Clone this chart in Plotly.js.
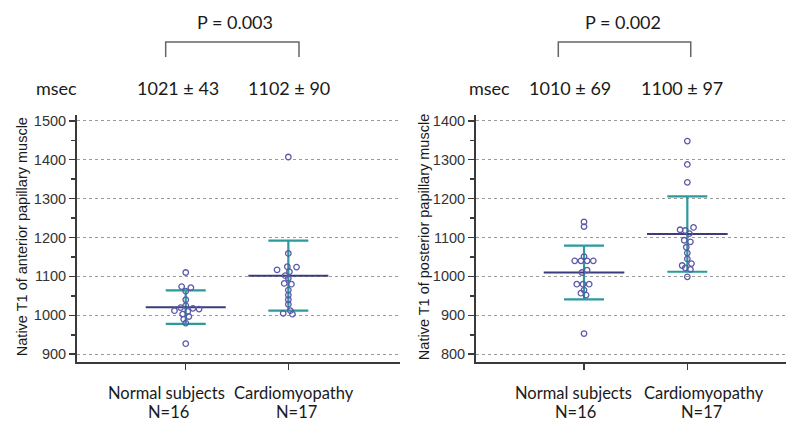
<!DOCTYPE html>
<html>
<head>
<meta charset="utf-8">
<script src="https://cdn.plot.ly/plotly-3.0.1.min.js"></script>
<style>html,body{margin:0;padding:0;background:#fff;}#chart{width:786px;height:422px;}</style>
</head>
<body>
<div id="chart"></div>
<script>
// ---------- DATA ----------
const groups = ['Normal subjects', 'Cardiomyopathy'];
const groupN = [16, 17];
const groupPos = [1, 2];

// Anterior papillary muscle (left panel)
const antNormal = [1110, 1074, 1071, 1062, 1040, 1025, 1020, 1018, 1016, 1012, 1010, 1003, 997, 990, 980, 927];
const antNormalJitter = [0, -0.04, 0.05, 0, 0, 0, -0.05, 0.07, 0.13, -0.11, 0.02, -0.03, 0.03, -0.02, 0, 0];
const antCardio = [1407, 1159, 1125, 1124, 1117, 1112, 1102, 1095, 1082, 1080, 1065, 1052, 1040, 1028, 1012, 1005, 1003];
const antCardioJitter = [0, 0, -0.01, 0.08, -0.11, 0.01, -0.03, 0, -0.04, 0.03, 0, 0, 0, 0, 0.02, -0.05, 0.04];
const antMeans = [1021, 1102];
const antSDs = [43, 90];
const antP = '0.003';

// Posterior papillary muscle (right panel)
const postNormal = [1140, 1128, 1051, 1040, 1040, 1040, 1040, 1016, 1010, 980, 980, 980, 965, 957, 952, 853];
const postNormalJitter = [0, 0, 0, -0.09, -0.03, 0.03, 0.09, 0.03, -0.02, -0.07, -0.01, 0.05, 0, -0.03, 0.02, 0];
const postCardio = [1348, 1288, 1242, 1126, 1120, 1118, 1110, 1093, 1089, 1075, 1060, 1045, 1033, 1028, 1022, 1018, 999];
const postCardioJitter = [0, 0, 0, 0.06, -0.07, -0.02, 0.02, -0.03, 0.03, -0.01, 0, 0, 0.04, -0.05, -0.02, 0.03, 0];
const postMeans = [1010, 1100];        // stated in labels
const postSDs = [69, 97];
const postDrawnMeans = [1010, 1109];   // centre of plotted mean/SD bars
const postP = '0.002';

const antTitle = 'Native T1 of anterior papillary muscle';
const postTitle = 'Native T1 of posterior papillary muscle';
const unitLabel = 'msec';

// ---------- STYLE ----------
const pointColor = '#5a5aa8';
const meanColor = '#3c3c78';
const sdColor = '#2a9a9c';
const textFont = {family: 'Lato, "Open Sans", sans-serif', size: 18, color: '#1a1a1a'};
const groupFont = {family: 'Lato, "Open Sans", sans-serif', size: 16.5, color: '#1a1a1a'};
const tickFont = {family: '"Liberation Sans", Arial, sans-serif', size: 14.5, color: '#333'};
const yTitleFont = {family: '"Liberation Sans", Arial, sans-serif', size: 14.5, color: '#1a1a1a'};

function panelTraces(xa, ya, vals1, jit1, vals2, jit2, means, sds) {
  const tr = [];
  // SD bars
  tr.push({x: groupPos, y: means, xaxis: xa, yaxis: ya, type: 'scatter', mode: 'markers',
    marker: {size: 1, color: 'rgba(0,0,0,0)'}, hoverinfo: 'skip',
    error_y: {type: 'data', array: sds, visible: true, color: sdColor, thickness: 2.2, width: 20}});
  // mean lines
  means.forEach((m, i) => {
    tr.push({x: [groupPos[i] - 0.39, groupPos[i] + 0.39], y: [m, m], xaxis: xa, yaxis: ya,
      type: 'scatter', mode: 'lines', line: {color: meanColor, width: 2}, hoverinfo: 'skip'});
  });
  // points
  [[vals1, jit1, 0], [vals2, jit2, 1]].forEach(([v, j, gi]) => {
    tr.push({x: v.map((_, k) => groupPos[gi] + j[k]), y: v, xaxis: xa, yaxis: ya,
      type: 'scatter', mode: 'markers',
      marker: {symbol: 'circle-open', size: 5.5, color: pointColor, line: {width: 1.3, color: pointColor}}});
  });
  return tr;
}

const traces = [].concat(
  panelTraces('x', 'y', antNormal, antNormalJitter, antCardio, antCardioJitter, antMeans, antSDs),
  panelTraces('x2', 'y2', postNormal, postNormalJitter, postCardio, postCardioJitter, postDrawnMeans, postSDs)
);

function yAxis(range, tick0, anchor) {
  return {range: range, tick0: tick0, dtick: 100, anchor: anchor, showline: true, linecolor: '#3a3a3a', linewidth: 2,
    ticks: 'outside', ticklen: 6, tickwidth: 1.5, tickcolor: '#3a3a3a', tickfont: tickFont,
    showgrid: true, gridcolor: '#9a9a9a', gridwidth: 1, griddash: 'dot', zeroline: false,
    minor: {dtick: 50, ticks: 'outside', ticklen: 4, tickcolor: '#3a3a3a', showgrid: false},
    domain: [0.1422, 0.7275], fixedrange: true};
}
function xAxis(range, domain, anchor) {
  return {range: range, domain: domain, anchor: anchor, showline: true, linecolor: '#3a3a3a', linewidth: 2,
    tickvals: groupPos, ticktext: ['', ''], ticks: 'outside', ticklen: 6, tickwidth: 1.5, tickcolor: '#3a3a3a',
    showgrid: false, zeroline: false, fixedrange: true};
}

const annotations = [];
function addText(text, x, y, font, extra) {
  annotations.push(Object.assign({text: text, x: x, y: y, xref: 'paper', yref: 'paper',
    showarrow: false, xanchor: 'center', yanchor: 'middle', font: font}, extra || {}));
}
// left panel texts
addText('P = ' + antP, 0.299, 0.948, textFont);
addText(unitLabel, 0.0725, 0.7915, textFont);
addText(antMeans[0] + ' ± ' + antSDs[0], 0.2265, 0.7915, textFont);
addText(antMeans[1] + ' ± ' + antSDs[1], 0.3677, 0.7915, textFont);
addText(groups[0], 0.2115, 0.0687, groupFont);
addText('N=' + groupN[0], 0.214, 0.0237, groupFont);
addText(groups[1], 0.374, 0.0687, groupFont);
addText('N=' + groupN[1], 0.377, 0.0237, groupFont);
addText(antTitle, 0.028, 0.438, yTitleFont, {textangle: -90});
// right panel texts
addText('P = ' + postP, 0.7926, 0.948, textFont);
addText(unitLabel, 0.623, 0.7915, textFont);
addText(postMeans[0] + ' ± ' + postSDs[0], 0.7252, 0.7915, textFont);
addText(postMeans[1] + ' ± ' + postSDs[1], 0.8673, 0.7915, textFont);
addText(groups[0], 0.7295, 0.0687, groupFont);
addText('N=' + groupN[0], 0.732, 0.0237, groupFont);
addText(groups[1], 0.8957, 0.0687, groupFont);
addText('N=' + groupN[1], 0.8919, 0.0237, groupFont);
addText(postTitle, 0.5394, 0.438, yTitleFont, {textangle: -90});

const bracket = (x0, x1) => ({type: 'path', xref: 'paper', yref: 'paper',
  path: `M ${x0},0.865 L ${x0},0.9005 L ${x1},0.9005 L ${x1},0.865`,
  line: {color: '#666', width: 1.5}});

const layout = {
  width: 786, height: 422,
  margin: {l: 0, r: 0, t: 0, b: 0},
  paper_bgcolor: '#fff', plot_bgcolor: '#fff',
  showlegend: false,
  xaxis: xAxis([-0.0595, 3.089], [0.098, 0.509], 'y'),
  yaxis: yAxis([880, 1515], 900, 'x'),
  xaxis2: xAxis([-0.0455, 2.955], [0.6056, 1.0], 'y2'),
  yaxis2: yAxis([780, 1415], 800, 'x2'),
  annotations: annotations,
  shapes: [bracket(0.2108, 0.3804), bracket(0.7103, 0.8788)]
};

Plotly.newPlot('chart', traces, layout, {displayModeBar: false, staticPlot: true});
</script>
</body>
</html>
